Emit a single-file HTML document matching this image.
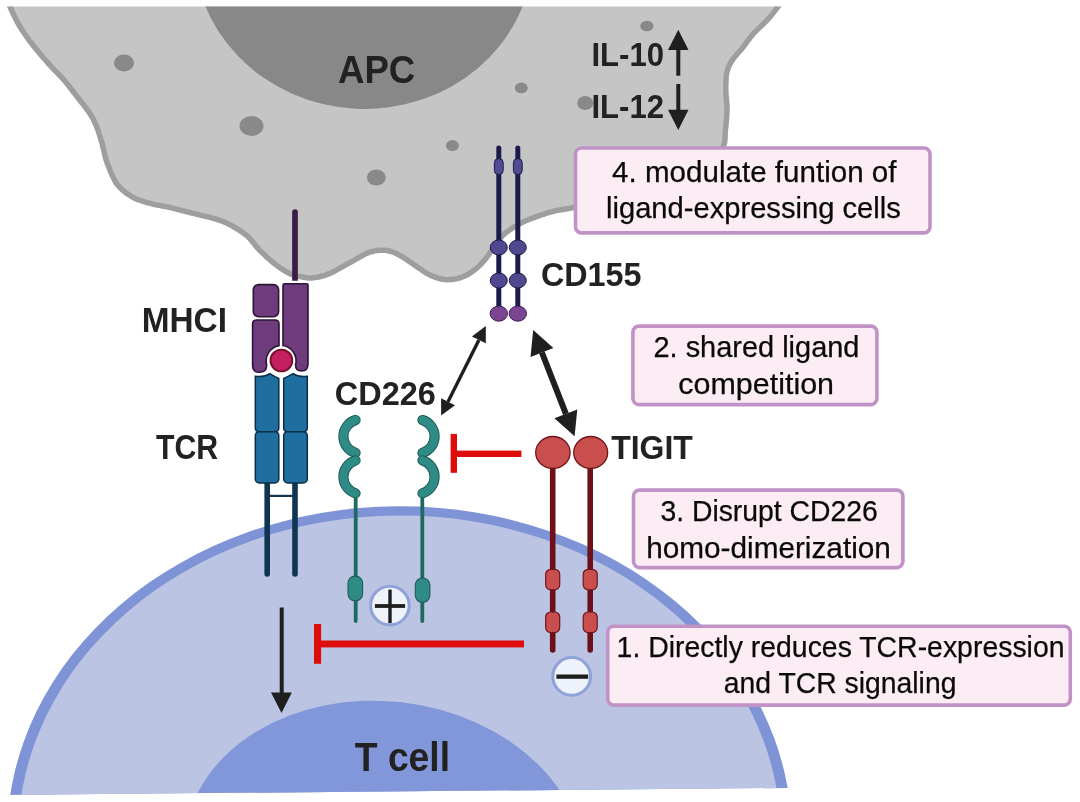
<!DOCTYPE html>
<html><head><meta charset="utf-8"><title>TIGIT diagram</title>
<style>html,body{margin:0;padding:0;background:#fff;width:1080px;height:802px;overflow:hidden}svg{display:block;font-family:"Liberation Sans",sans-serif;will-change:transform}</style>
</head><body>

<svg width="1080" height="802" viewBox="0 0 1080 802">
<defs>
  <clipPath id="topclip"><rect x="0" y="6.5" width="1080" height="900"/></clipPath>
  <clipPath id="botclip"><polygon points="0,-10 1080,-10 1080,785.3 0,794.9"/></clipPath>
</defs>
<rect width="1080" height="802" fill="#ffffff"/>
<!-- APC -->
<g clip-path="url(#topclip)">
  <path d="M8.1,-20 L8.1,2.0 L8.2,2.3 L8.3,2.7 L8.4,3.0 L8.5,3.2 L8.6,3.5 L8.7,3.7 L8.9,4.1 L9.1,4.5 L9.3,5.1 L9.6,5.8 L10.0,6.7 L10.4,7.7 L10.9,8.8 L11.5,10.0 L12.0,11.2 L12.6,12.5 L13.2,13.8 L13.8,15.1 L14.4,16.3 L15.0,17.5 L15.5,18.6 L16.1,19.7 L16.7,20.8 L17.2,21.9 L17.8,22.9 L18.4,24.0 L19.0,25.1 L19.7,26.2 L20.3,27.3 L21.0,28.4 L21.8,29.6 L22.6,30.8 L23.4,32.0 L24.2,33.2 L25.1,34.5 L25.9,35.7 L26.8,37.0 L27.8,38.3 L28.7,39.5 L29.6,40.8 L30.5,42.0 L31.5,43.2 L32.4,44.4 L33.3,45.6 L34.3,46.8 L35.3,48.0 L36.3,49.3 L37.3,50.5 L38.4,51.8 L39.5,53.1 L40.6,54.5 L41.8,55.9 L43.1,57.3 L44.3,58.7 L45.6,60.2 L46.9,61.7 L48.1,63.1 L49.4,64.6 L50.7,66.0 L51.9,67.3 L53.1,68.7 L54.3,69.9 L55.5,71.1 L56.8,72.4 L58.0,73.6 L59.2,74.9 L60.5,76.2 L61.7,77.5 L63.1,79.0 L64.4,80.5 L65.8,82.2 L67.2,83.9 L68.7,85.8 L70.2,87.7 L71.7,89.6 L73.1,91.5 L74.5,93.3 L75.9,95.1 L77.2,96.8 L78.4,98.3 L79.5,99.7 L80.5,101.0 L81.4,102.2 L82.3,103.3 L83.2,104.4 L84.0,105.4 L84.8,106.5 L85.6,107.5 L86.4,108.5 L87.1,109.6 L87.9,110.7 L88.6,111.7 L89.3,112.7 L89.9,113.6 L90.6,114.6 L91.2,115.6 L91.8,116.7 L92.5,117.7 L93.1,118.8 L93.7,120.0 L94.2,121.2 L94.8,122.4 L95.4,123.7 L95.9,124.9 L96.4,126.2 L96.9,127.5 L97.4,128.8 L97.9,130.1 L98.4,131.4 L98.8,132.7 L99.2,134.0 L99.6,135.2 L100.0,136.5 L100.4,137.7 L100.8,139.0 L101.2,140.2 L101.5,141.5 L101.9,142.8 L102.2,144.1 L102.6,145.4 L102.9,146.8 L103.3,148.2 L103.6,149.6 L103.9,151.1 L104.3,152.5 L104.6,154.0 L104.9,155.3 L105.2,156.7 L105.6,158.0 L105.9,159.2 L106.3,160.4 L106.7,161.6 L107.1,162.7 L107.5,163.8 L107.9,164.9 L108.3,166.0 L108.7,167.1 L109.1,168.1 L109.6,169.1 L109.9,170.1 L110.3,171.0 L110.7,171.9 L111.1,172.7 L111.4,173.6 L111.8,174.3 L112.1,175.1 L112.5,175.9 L112.8,176.6 L113.2,177.3 L113.6,178.1 L113.9,178.8 L114.3,179.5 L114.6,180.2 L114.9,180.8 L115.2,181.4 L115.5,181.9 L115.8,182.5 L116.1,183.0 L116.5,183.6 L117.0,184.2 L117.5,184.8 L118.1,185.5 L118.8,186.2 L119.5,187.0 L120.2,187.7 L121.0,188.5 L121.7,189.2 L122.5,189.9 L123.3,190.6 L124.0,191.2 L124.7,191.8 L125.4,192.3 L126.1,192.9 L126.8,193.4 L127.5,193.9 L128.2,194.3 L128.9,194.8 L129.6,195.3 L130.3,195.7 L131.0,196.1 L131.7,196.6 L132.4,197.0 L133.0,197.3 L133.5,197.7 L134.1,198.0 L134.7,198.3 L135.4,198.6 L136.1,198.9 L137.0,199.2 L137.9,199.6 L139.1,200.0 L140.4,200.5 L141.8,200.9 L143.2,201.4 L144.8,201.9 L146.4,202.3 L148.0,202.8 L149.5,203.2 L151.1,203.7 L152.6,204.0 L154.0,204.4 L155.4,204.7 L156.8,204.9 L158.2,205.2 L159.6,205.4 L161.0,205.7 L162.5,206.0 L164.0,206.2 L165.6,206.6 L167.3,206.9 L169.0,207.3 L170.8,207.7 L172.7,208.2 L174.5,208.7 L176.4,209.1 L178.3,209.6 L180.2,210.1 L182.0,210.6 L183.8,211.0 L185.5,211.4 L187.1,211.8 L188.6,212.2 L190.1,212.6 L191.6,213.0 L193.1,213.3 L194.5,213.7 L195.9,214.0 L197.4,214.4 L198.8,214.8 L200.3,215.1 L201.7,215.5 L203.2,215.8 L204.6,216.2 L206.1,216.5 L207.6,216.8 L209.1,217.2 L210.6,217.6 L212.2,218.0 L213.7,218.4 L215.2,218.9 L216.7,219.4 L218.3,219.9 L219.8,220.4 L221.3,220.9 L222.8,221.5 L224.4,222.1 L225.9,222.8 L227.5,223.4 L229.0,224.2 L230.6,225.0 L232.2,225.8 L233.8,226.8 L235.5,227.8 L237.1,228.8 L238.8,229.9 L240.4,231.0 L241.9,232.0 L243.3,233.0 L244.6,234.0 L245.8,234.8 L246.8,235.6 L247.7,236.3 L248.4,237.0 L249.1,237.7 L249.6,238.3 L250.2,238.9 L250.6,239.5 L251.1,240.0 L251.5,240.6 L252.1,241.2 L252.7,241.9 L253.4,242.7 L254.0,243.5 L254.6,244.3 L255.2,245.1 L255.9,245.9 L256.5,246.7 L257.1,247.4 L257.7,248.1 L258.2,248.8 L258.8,249.4 L259.4,250.0 L260.0,250.6 L260.6,251.2 L261.3,251.8 L261.9,252.4 L262.5,253.0 L263.1,253.6 L263.8,254.2 L264.4,254.8 L265.0,255.4 L265.6,256.0 L266.2,256.5 L266.8,257.1 L267.5,257.6 L268.1,258.2 L268.7,258.7 L269.3,259.3 L269.9,259.8 L270.5,260.3 L271.1,260.8 L271.7,261.3 L272.3,261.8 L272.9,262.3 L273.5,262.8 L274.1,263.3 L274.7,263.8 L275.3,264.3 L275.9,264.7 L276.6,265.2 L277.2,265.7 L277.8,266.1 L278.4,266.6 L279.0,267.0 L279.6,267.4 L280.2,267.9 L280.9,268.3 L281.5,268.7 L282.1,269.1 L282.7,269.5 L283.3,269.9 L283.9,270.3 L284.5,270.7 L285.1,271.1 L285.7,271.4 L286.3,271.8 L286.9,272.1 L287.5,272.4 L288.1,272.7 L288.6,273.0 L289.2,273.3 L289.8,273.6 L290.3,273.9 L290.8,274.1 L291.4,274.3 L291.9,274.5 L292.4,274.7 L293.0,274.9 L293.7,275.2 L294.3,275.4 L295.1,275.6 L295.9,275.8 L296.8,276.0 L297.8,276.2 L298.8,276.4 L299.8,276.5 L300.7,276.7 L301.7,276.9 L302.6,277.0 L303.5,277.2 L304.3,277.3 L305.0,277.5 L305.7,277.6 L306.3,277.8 L306.9,277.9 L307.4,277.9 L307.9,278.0 L308.5,278.0 L309.1,278.1 L309.9,278.1 L310.8,278.0 L311.7,277.9 L312.8,277.8 L313.8,277.7 L315.0,277.6 L316.1,277.4 L317.2,277.2 L318.4,277.0 L319.5,276.8 L320.5,276.5 L321.6,276.3 L322.7,276.0 L323.7,275.6 L324.8,275.3 L325.9,274.9 L327.0,274.6 L328.0,274.1 L329.1,273.7 L330.2,273.3 L331.3,272.8 L332.3,272.3 L333.4,271.8 L334.5,271.2 L335.6,270.6 L336.7,270.0 L337.8,269.3 L338.9,268.6 L340.1,268.0 L341.2,267.3 L342.4,266.7 L343.5,266.1 L344.6,265.5 L345.8,264.8 L346.9,264.2 L348.0,263.6 L349.2,263.0 L350.3,262.4 L351.4,261.8 L352.5,261.2 L353.6,260.6 L354.7,260.0 L355.8,259.3 L356.9,258.7 L358.1,258.0 L359.2,257.4 L360.3,256.7 L361.4,256.1 L362.4,255.6 L363.4,255.0 L364.2,254.6 L365.0,254.2 L365.6,253.8 L366.2,253.5 L366.8,253.3 L367.3,253.1 L367.8,252.9 L368.3,252.7 L368.7,252.5 L369.2,252.4 L369.7,252.2 L370.3,252.0 L370.9,251.8 L371.5,251.6 L372.1,251.5 L372.7,251.3 L373.3,251.2 L373.9,251.0 L374.5,250.9 L375.1,250.8 L375.7,250.7 L376.3,250.6 L376.9,250.5 L377.5,250.4 L378.1,250.4 L378.7,250.3 L379.4,250.2 L380.0,250.2 L380.6,250.2 L381.2,250.2 L381.8,250.2 L382.4,250.2 L383.0,250.2 L383.6,250.2 L384.2,250.2 L384.8,250.3 L385.4,250.3 L386.1,250.4 L386.7,250.5 L387.3,250.6 L387.9,250.7 L388.5,250.8 L389.2,251.0 L389.8,251.1 L390.4,251.3 L391.0,251.5 L391.7,251.7 L392.3,251.9 L392.9,252.1 L393.5,252.3 L394.1,252.5 L394.7,252.8 L395.4,253.1 L396.0,253.4 L396.6,253.6 L397.2,253.9 L397.7,254.3 L398.3,254.6 L398.9,254.9 L399.5,255.2 L400.0,255.5 L400.6,255.8 L401.2,256.2 L401.8,256.5 L402.4,256.8 L402.9,257.2 L403.5,257.5 L404.1,257.9 L404.7,258.3 L405.2,258.6 L405.8,259.0 L406.4,259.4 L407.0,259.8 L407.5,260.2 L408.1,260.6 L408.7,261.0 L409.3,261.4 L409.8,261.8 L410.4,262.2 L410.9,262.6 L411.5,262.9 L412.0,263.3 L412.6,263.7 L413.2,264.1 L413.7,264.5 L414.3,264.9 L414.8,265.3 L415.4,265.7 L415.9,266.1 L416.5,266.4 L417.0,266.8 L417.6,267.2 L418.2,267.6 L418.7,268.0 L419.3,268.3 L419.9,268.7 L420.5,269.1 L421.1,269.5 L421.6,269.8 L422.1,270.2 L422.6,270.5 L423.1,270.9 L423.6,271.2 L424.0,271.5 L424.3,271.7 L424.6,272.0 L424.9,272.2 L425.2,272.4 L425.6,272.6 L425.9,272.9 L426.4,273.1 L426.9,273.4 L427.4,273.7 L428.0,274.0 L428.7,274.3 L429.3,274.7 L430.0,275.0 L430.6,275.3 L431.3,275.6 L431.9,275.9 L432.6,276.2 L433.2,276.4 L433.8,276.7 L434.4,276.9 L435.1,277.2 L435.7,277.4 L436.3,277.6 L436.9,277.8 L437.5,278.0 L438.1,278.2 L438.7,278.4 L439.4,278.5 L440.0,278.7 L440.6,278.8 L441.2,279.0 L441.8,279.1 L442.4,279.2 L442.9,279.3 L443.5,279.4 L444.1,279.5 L444.7,279.6 L445.3,279.6 L445.8,279.7 L446.4,279.7 L447.0,279.7 L447.6,279.7 L448.2,279.7 L448.8,279.7 L449.5,279.6 L450.1,279.6 L450.7,279.6 L451.3,279.5 L451.9,279.4 L452.5,279.4 L453.1,279.3 L453.7,279.2 L454.3,279.1 L455.0,279.0 L455.6,278.9 L456.2,278.8 L456.8,278.6 L457.4,278.5 L458.0,278.3 L458.6,278.2 L459.2,278.0 L459.9,277.8 L460.5,277.6 L461.1,277.4 L461.7,277.2 L462.3,277.0 L462.9,276.7 L463.5,276.5 L464.1,276.2 L464.7,276.0 L465.3,275.7 L465.9,275.4 L466.6,275.1 L467.2,274.8 L467.8,274.4 L468.4,274.1 L469.0,273.7 L469.6,273.4 L470.2,273.0 L470.8,272.6 L471.4,272.2 L472.0,271.8 L472.6,271.3 L473.2,270.9 L473.8,270.4 L474.5,270.0 L475.1,269.5 L475.7,268.9 L476.3,268.4 L477.0,267.9 L477.6,267.4 L478.2,266.8 L478.8,266.3 L479.4,265.7 L480.1,265.1 L480.7,264.5 L481.3,263.8 L481.9,263.2 L482.5,262.5 L483.0,261.9 L483.6,261.3 L484.1,260.6 L484.7,259.8 L485.4,259.0 L486.1,258.1 L486.9,257.1 L487.8,255.9 L488.8,254.5 L489.9,252.9 L491.2,251.1 L492.5,249.1 L493.9,247.1 L495.3,245.2 L496.6,243.2 L498.0,241.4 L499.2,239.7 L500.4,238.3 L501.4,237.0 L502.3,236.0 L503.2,235.1 L504.0,234.3 L504.9,233.5 L505.7,232.9 L506.5,232.2 L507.3,231.6 L508.2,231.0 L509.2,230.3 L510.3,229.5 L511.4,228.7 L512.6,227.9 L513.8,227.1 L515.1,226.3 L516.4,225.6 L517.8,224.8 L519.2,224.0 L520.6,223.3 L522.1,222.5 L523.6,221.8 L525.3,221.1 L526.9,220.3 L528.6,219.6 L530.4,218.9 L532.1,218.3 L533.9,217.6 L535.6,216.9 L537.4,216.3 L539.1,215.7 L540.8,215.1 L542.5,214.5 L544.2,214.0 L545.9,213.5 L547.6,212.9 L549.3,212.4 L551.0,211.9 L552.7,211.5 L554.4,211.0 L556.1,210.6 L557.6,210.3 L558.8,210.1 L559.7,209.9 L560.6,209.8 L561.5,209.7 L562.7,209.6 L564.2,209.3 L566.3,209.0 L569.1,208.4 L572.8,207.7 L577.5,206.8 L583.1,205.7 L589.5,204.5 L596.4,203.1 L603.7,201.7 L611.2,200.2 L618.7,198.6 L626.0,196.9 L632.9,195.1 L639.2,193.4 L645.3,191.5 L651.3,189.4 L657.3,187.3 L663.3,185.0 L669.1,182.7 L674.6,180.3 L680.0,178.0 L685.0,175.8 L689.6,173.6 L693.8,171.5 L697.5,169.6 L700.8,167.7 L703.8,165.8 L706.4,164.0 L708.8,162.2 L711.0,160.4 L713.0,158.7 L714.8,157.1 L716.5,155.5 L718.1,154.0 L719.5,152.7 L720.5,151.5 L721.4,150.6 L722.0,149.7 L722.4,148.9 L722.8,148.1 L723.1,147.2 L723.5,146.3 L723.8,145.2 L724.2,144.0 L724.5,142.9 L724.7,141.7 L724.9,140.5 L725.0,139.2 L725.1,137.8 L725.1,136.5 L725.1,135.0 L725.2,133.6 L725.3,132.2 L725.4,130.8 L725.5,129.4 L725.6,128.1 L725.8,126.9 L725.9,125.7 L726.0,124.4 L726.1,123.2 L726.3,122.0 L726.4,120.8 L726.5,119.6 L726.6,118.4 L726.6,117.2 L726.7,115.9 L726.8,114.7 L726.8,113.5 L726.9,112.3 L726.9,111.0 L727.0,109.8 L727.0,108.6 L727.0,107.4 L727.0,106.2 L726.9,105.0 L726.8,103.8 L726.7,102.6 L726.6,101.4 L726.5,100.1 L726.4,98.9 L726.2,97.6 L726.1,96.3 L726.0,95.0 L726.0,93.7 L725.9,92.4 L725.9,91.1 L725.8,89.9 L725.8,88.5 L725.8,87.3 L725.8,86.0 L725.8,84.7 L725.9,83.4 L725.9,82.2 L726.0,81.1 L726.0,80.0 L726.1,78.9 L726.1,77.8 L726.2,76.8 L726.3,75.8 L726.4,74.7 L726.6,73.7 L726.8,72.6 L727.1,71.5 L727.4,70.4 L727.7,69.3 L728.1,68.3 L728.5,67.2 L729.0,66.1 L729.5,65.1 L730.0,64.0 L730.6,62.9 L731.2,61.9 L731.9,60.8 L732.6,59.6 L733.4,58.5 L734.3,57.4 L735.2,56.3 L736.2,55.2 L737.2,54.1 L738.1,52.9 L739.1,51.8 L740.2,50.7 L741.2,49.5 L742.2,48.3 L743.2,47.0 L744.2,45.7 L745.2,44.3 L746.3,42.8 L747.3,41.3 L748.5,39.8 L749.6,38.3 L750.9,36.8 L752.1,35.2 L753.4,33.7 L754.9,32.1 L756.4,30.6 L757.9,29.1 L759.5,27.5 L761.1,26.0 L762.6,24.5 L764.2,23.0 L765.7,21.6 L767.1,20.1 L768.4,18.8 L769.6,17.3 L770.9,15.9 L772.1,14.4 L773.3,12.9 L774.4,11.4 L775.5,9.9 L776.6,8.6 L777.5,7.3 L778.4,6.2 L779.1,5.2 L779.7,4.5 L780.1,3.9 L780.5,3.4 L780.7,3.1 L780.8,2.9 L781.0,2.7 L781.1,2.5 L781.3,2.2 L781.5,1.8 L781.7,1.5 L781.7,-20 Z" fill="#c5c5c5" stroke="#9e9e9e" stroke-width="5.5"/>
  <ellipse cx="363.6" cy="-49.8" rx="169.6" ry="158.7" fill="#888888" transform="rotate(2.84 363.6 -49.8)"/>
</g>
<g fill="#898989">
  <ellipse cx="124" cy="63" rx="10" ry="8.5"/>
  <ellipse cx="251.5" cy="126" rx="12" ry="10"/>
  <ellipse cx="376.3" cy="177.5" rx="9.4" ry="8"/>
  <ellipse cx="452.4" cy="145.6" rx="6.5" ry="5.5"/>
  <ellipse cx="521.3" cy="87.9" rx="6.5" ry="5.3"/>
  <ellipse cx="646.9" cy="26" rx="6.7" ry="5.2"/>
  <ellipse cx="585.2" cy="103" rx="8" ry="7"/>
</g>
<!-- T cell -->
<g clip-path="url(#botclip)">
  <ellipse cx="399.4" cy="836.5" rx="392.4" ry="330.2" fill="#7f93d7" transform="rotate(-0.31 399.4 836.5)"/>
  <ellipse cx="399.4" cy="836.5" rx="381.3" ry="321.1" fill="#bbc4e2" transform="rotate(-0.31 399.4 836.5)"/>
  <ellipse cx="384.1" cy="858.4" rx="200.7" ry="157.1" fill="#8197d9" transform="rotate(6.51 384.1 858.4)"/>
</g>

<line x1="498.8" y1="148" x2="498.8" y2="312" stroke="#1c1a4a" stroke-width="5" stroke-linecap="round"/>
<rect x="494.40000000000003" y="158.7" width="8.8" height="15.8" rx="4" fill="#534a94" stroke="#1c1a4a" stroke-width="1"/>
<ellipse cx="498.8" cy="247.5" rx="8.5" ry="7.5" fill="#51478f" stroke="#1c1a4a" stroke-width="1"/>
<ellipse cx="498.8" cy="280.5" rx="8.5" ry="7.5" fill="#51478f" stroke="#1c1a4a" stroke-width="1"/>
<ellipse cx="498.8" cy="313.6" rx="8.7" ry="7.6" fill="#7c4591" stroke="#3a1f55" stroke-width="1"/>
<line x1="517.8" y1="148" x2="517.8" y2="312" stroke="#1c1a4a" stroke-width="5" stroke-linecap="round"/>
<rect x="513.4" y="158.7" width="8.8" height="15.8" rx="4" fill="#534a94" stroke="#1c1a4a" stroke-width="1"/>
<ellipse cx="517.8" cy="247.5" rx="8.5" ry="7.5" fill="#51478f" stroke="#1c1a4a" stroke-width="1"/>
<ellipse cx="517.8" cy="280.5" rx="8.5" ry="7.5" fill="#51478f" stroke="#1c1a4a" stroke-width="1"/>
<ellipse cx="517.8" cy="313.6" rx="8.7" ry="7.6" fill="#7c4591" stroke="#3a1f55" stroke-width="1"/>
<line x1="267.2" y1="480" x2="267.2" y2="574" stroke="#0f3550" stroke-width="5.6" stroke-linecap="round"/>
<line x1="295" y1="480" x2="295" y2="574" stroke="#0f3550" stroke-width="5.6" stroke-linecap="round"/>
<rect x="269" y="494.8" width="24" height="2.2" fill="#0f3550"/>
<line x1="295" y1="212" x2="295" y2="290" stroke="#3a1d47" stroke-width="5.7" stroke-linecap="round"/>
<g fill="#ffffff" stroke="#ffffff" stroke-width="6"><rect x="253.3" y="284.6" width="25.3" height="32.1" rx="5.2"/><path d="M252.6,324 Q252.6,320 256.6,320 L275,320 Q279,320 279,324 L279,345.6 A15.6,15.6 0 0 0 266.6,364.5 L266.6,365.5 Q266.6,372.3 259.6,372.3 Q252.6,372.3 252.6,365.5 Z"/><path d="M283,285.2 Q283,283.7 284.5,283.7 L306.5,283.7 Q308,283.7 308,285.2 L308,364 Q308,371 301.5,371 Q295.5,371 295.5,365 A15.6,15.6 0 0 0 283,345.5 Z"/></g>
<g fill="#1e6e9f" stroke="#0b2f48" stroke-width="1.5"><path d="M255.3,376.3 Q264,377.6 269.9,373.6 Q274.5,376.6 278.8,378.4 L278.8,427.7 Q278.8,431.7 274.8,431.7 L259.3,431.7 Q255.3,431.7 255.3,427.7 Z"/><path d="M283.7,378.4 Q288,376.6 293.1,373.6 Q299,377.6 307.3,376.3 L307.3,427.7 Q307.3,431.7 303.3,431.7 L287.7,431.7 Q283.7,431.7 283.7,427.7 Z"/><rect x="255.3" y="431.7" width="23.5" height="51.2" rx="4"/><rect x="283.7" y="431.7" width="23.6" height="51.2" rx="4"/></g>
<g fill="#6e3b7d" stroke="#2e1538" stroke-width="1.6"><rect x="253.3" y="284.6" width="25.3" height="32.1" rx="5.2"/><path d="M252.6,324 Q252.6,320 256.6,320 L275,320 Q279,320 279,324 L279,345.6 A15.6,15.6 0 0 0 266.6,364.5 L266.6,365.5 Q266.6,372.3 259.6,372.3 Q252.6,372.3 252.6,365.5 Z"/><path d="M283,285.2 Q283,283.7 284.5,283.7 L306.5,283.7 Q308,283.7 308,285.2 L308,364 Q308,371 301.5,371 Q295.5,371 295.5,365 A15.6,15.6 0 0 0 283,345.5 Z"/></g>
<circle cx="281.4" cy="360.5" r="10.9" fill="#c41f60" stroke="#7a0f2c" stroke-width="1.9"/>
<line x1="355.7" y1="494" x2="355.7" y2="621" stroke="#1e6a63" stroke-width="3.8" stroke-linecap="round"/>
<path d="M355.58,420.00 A17.20,17.20 0 0 0 355.58,452.90" fill="none" stroke="#1f5c58" stroke-width="10.2" stroke-linecap="round"/><path d="M355.58,420.00 A17.20,17.20 0 0 0 355.58,452.90" fill="none" stroke="#2f8b85" stroke-width="8.2" stroke-linecap="round"/>
<path d="M355.58,460.40 A17.20,17.20 0 0 0 355.58,493.30" fill="none" stroke="#1f5c58" stroke-width="10.2" stroke-linecap="round"/><path d="M355.58,460.40 A17.20,17.20 0 0 0 355.58,493.30" fill="none" stroke="#2f8b85" stroke-width="8.2" stroke-linecap="round"/>
<line x1="422.3" y1="494" x2="422.3" y2="621" stroke="#1e6a63" stroke-width="3.8" stroke-linecap="round"/>
<path d="M422.42,420.00 A17.20,17.20 0 0 1 422.42,452.90" fill="none" stroke="#1f5c58" stroke-width="10.2" stroke-linecap="round"/><path d="M422.42,420.00 A17.20,17.20 0 0 1 422.42,452.90" fill="none" stroke="#2f8b85" stroke-width="8.2" stroke-linecap="round"/>
<path d="M422.42,460.40 A17.20,17.20 0 0 1 422.42,493.30" fill="none" stroke="#1f5c58" stroke-width="10.2" stroke-linecap="round"/><path d="M422.42,460.40 A17.20,17.20 0 0 1 422.42,493.30" fill="none" stroke="#2f8b85" stroke-width="8.2" stroke-linecap="round"/>
<rect x="348" y="576.1" width="14.6" height="24.7" rx="7" fill="#2f8b85" stroke="#1f5c58" stroke-width="1.1"/>
<rect x="415.3" y="578" width="14.6" height="24.3" rx="7" fill="#2f8b85" stroke="#1f5c58" stroke-width="1.1"/>
<circle cx="389.9" cy="605.6" r="19.3" fill="#eef2fb" stroke="#8fa3d8" stroke-width="3.1"/>
<rect x="388.3" y="589.6" width="3.4" height="33.4" fill="#1e1e1e"/><rect x="374.9" y="604.1" width="30.2" height="3.8" fill="#1e1e1e"/>
<line x1="552.7" y1="465" x2="552.7" y2="650" stroke="#6b1117" stroke-width="5.6" stroke-linecap="round"/>
<rect x="545.7" y="569.3" width="14" height="20.5" rx="5" fill="#c94f4f" stroke="#701418" stroke-width="1.2"/>
<rect x="545.7" y="612" width="14" height="20.6" rx="5" fill="#c94f4f" stroke="#701418" stroke-width="1.2"/>
<line x1="590.2" y1="465" x2="590.2" y2="650" stroke="#6b1117" stroke-width="5.6" stroke-linecap="round"/>
<rect x="583.2" y="569.3" width="14" height="20.5" rx="5" fill="#c94f4f" stroke="#701418" stroke-width="1.2"/>
<rect x="583.2" y="612" width="14" height="20.6" rx="5" fill="#c94f4f" stroke="#701418" stroke-width="1.2"/>
<ellipse cx="552.9" cy="452.5" rx="17.2" ry="16" fill="#c94f4f" stroke="#701418" stroke-width="1.3"/>
<ellipse cx="590.7" cy="452.5" rx="17" ry="16" fill="#c94f4f" stroke="#701418" stroke-width="1.3"/>
<circle cx="571.7" cy="676.4" r="18.9" fill="#eef2fb" stroke="#8fa3d8" stroke-width="3.1"/>
<rect x="556.4" y="674.5" width="31.8" height="4.3" fill="#1e1e1e"/>
<g fill="#1f1f1f"><rect x="279.7" y="607.5" width="4" height="88"/><polygon points="271,692.5 291.8,692.5 281.5,713.1"/></g>
<g fill="#1f1f1f"><rect x="676.3" y="47" width="4" height="28.7"/><polygon points="668,49.9 688.5,49.9 678.3,29.7"/></g>
<g fill="#1f1f1f"><rect x="676.3" y="84" width="4" height="28"/><polygon points="668,109.8 688.5,109.8 678.3,130"/></g>
<g fill="#1f1f1f"><line x1="478.9" y1="339.9" x2="448.0" y2="401.7" stroke="#1f1f1f" stroke-width="3.4"/><polygon points="485.8,326.0 485.8,343.3 471.9,336.4"/><polygon points="441.1,415.6 441.1,398.3 455.0,405.2"/></g>
<g fill="#1f1f1f"><line x1="541.9" y1="352.5" x2="565.9" y2="413.8" stroke="#1f1f1f" stroke-width="6"/><polygon points="533.2,330.1 553.4,348.0 530.5,356.9"/><polygon points="574.6,436.2 554.4,418.3 577.3,409.4"/></g>
<g fill="#df0c0c"><rect x="450.6" y="433.9" width="6.4" height="38.9"/><rect x="457" y="450.6" width="64.4" height="6.4"/></g>
<g fill="#df0c0c"><rect x="314" y="624" width="7.1" height="39.8"/><rect x="321" y="640.5" width="203" height="6.9"/></g>
<rect x="575.50" y="148.00" width="354.50" height="84.90" rx="6" fill="#fcedf5" stroke="#c192c6" stroke-width="3.6"/>
<rect x="632.90" y="326.10" width="244.00" height="78.50" rx="6" fill="#fcedf5" stroke="#c192c6" stroke-width="3.6"/>
<rect x="633.50" y="490.10" width="269.40" height="77.50" rx="6" fill="#fcedf5" stroke="#c192c6" stroke-width="3.6"/>
<rect x="607.70" y="626.30" width="462.60" height="78.80" rx="6" fill="#fcedf5" stroke="#c192c6" stroke-width="3.6"/>
<g font-family="Liberation Sans, sans-serif">
<text x="337.96" y="83.40" font-size="38.7" font-weight="bold" fill="#222222" textLength="77.30" lengthAdjust="spacingAndGlyphs">APC</text>
<text x="591.49" y="66.10" font-size="32.3" font-weight="bold" fill="#222222" textLength="72.56" lengthAdjust="spacingAndGlyphs">IL-10</text>
<text x="591.49" y="117.60" font-size="32.3" font-weight="bold" fill="#222222" textLength="72.56" lengthAdjust="spacingAndGlyphs">IL-12</text>
<text x="141.76" y="332.10" font-size="34.3" font-weight="bold" fill="#222222" textLength="85.23" lengthAdjust="spacingAndGlyphs">MHCI</text>
<text x="156.00" y="459.40" font-size="34.6" font-weight="bold" fill="#222222" textLength="62.22" lengthAdjust="spacingAndGlyphs">TCR</text>
<text x="540.98" y="286.20" font-size="33.5" font-weight="bold" fill="#222222" textLength="100.54" lengthAdjust="spacingAndGlyphs">CD155</text>
<text x="334.85" y="404.70" font-size="32.3" font-weight="bold" fill="#222222" textLength="101.00" lengthAdjust="spacingAndGlyphs">CD226</text>
<text x="611.18" y="459.30" font-size="32.7" font-weight="bold" fill="#222222" textLength="81.64" lengthAdjust="spacingAndGlyphs">TIGIT</text>
<text x="354.78" y="771.00" font-size="40.4" font-weight="bold" fill="#222222" textLength="95.28" lengthAdjust="spacingAndGlyphs">T cell</text>
<text x="612.10" y="181.60" font-size="29.5" font-weight="normal" fill="#0a0a0a" stroke="#0a0a0a" stroke-width="0.25" textLength="284.40" lengthAdjust="spacingAndGlyphs">4. modulate funtion of</text>
<text x="605.98" y="218.40" font-size="29.5" font-weight="normal" fill="#0a0a0a" stroke="#0a0a0a" stroke-width="0.25" textLength="294.84" lengthAdjust="spacingAndGlyphs">ligand-expressing cells</text>
<text x="653.47" y="356.70" font-size="29.5" font-weight="normal" fill="#0a0a0a" stroke="#0a0a0a" stroke-width="0.25" textLength="205.97" lengthAdjust="spacingAndGlyphs">2. shared ligand</text>
<text x="678.35" y="393.50" font-size="29.5" font-weight="normal" fill="#0a0a0a" stroke="#0a0a0a" stroke-width="0.25" textLength="155.70" lengthAdjust="spacingAndGlyphs">competition</text>
<text x="660.48" y="520.80" font-size="29.5" font-weight="normal" fill="#0a0a0a" stroke="#0a0a0a" stroke-width="0.25" textLength="217.23" lengthAdjust="spacingAndGlyphs">3. Disrupt CD226</text>
<text x="646.16" y="558.40" font-size="29.5" font-weight="normal" fill="#0a0a0a" stroke="#0a0a0a" stroke-width="0.25" textLength="244.69" lengthAdjust="spacingAndGlyphs">homo-dimerization</text>
<text x="616.58" y="657.00" font-size="29.5" font-weight="normal" fill="#0a0a0a" stroke="#0a0a0a" stroke-width="0.25" textLength="447.94" lengthAdjust="spacingAndGlyphs">1. Directly reduces TCR-expression</text>
<text x="723.78" y="693.30" font-size="29.5" font-weight="normal" fill="#0a0a0a" stroke="#0a0a0a" stroke-width="0.25" textLength="232.65" lengthAdjust="spacingAndGlyphs">and TCR signaling</text>
</g>
</svg>
</body></html>
